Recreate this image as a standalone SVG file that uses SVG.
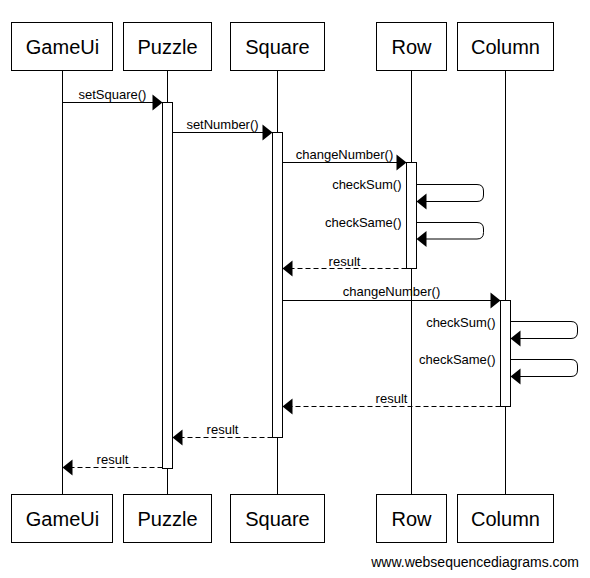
<svg xmlns="http://www.w3.org/2000/svg" width="590" height="578" viewBox="0 0 590 578">
<style>
.box{fill:#fff;stroke:#000;stroke-width:1}
.life{stroke:#000;stroke-width:1}
.act{fill:#fff;stroke:#000;stroke-width:1}
.pn{font-family:"Liberation Sans",Arial,sans-serif;font-size:20px;fill:#000;text-anchor:middle}
.msg{fill:none;stroke:#000;stroke-width:1}
.dash{stroke-dasharray:5,3}
.lbl{font-family:"Liberation Sans",Arial,sans-serif;font-size:13px;fill:#000;text-anchor:middle}
.lblr{font-family:"Liberation Sans",Arial,sans-serif;font-size:13px;fill:#000;text-anchor:end}
.ah{fill:#000}
.wm{font-family:"Liberation Sans",Arial,sans-serif;font-size:14px;fill:#000;text-anchor:end}
</style>
<rect width="590" height="578" fill="#fff"/>
<g id="lifelines">
<line class="life" x1="62.5" y1="71" x2="62.5" y2="494"/>
<line class="life" x1="167.5" y1="71" x2="167.5" y2="494"/>
<line class="life" x1="277.5" y1="71" x2="277.5" y2="494"/>
<line class="life" x1="411.5" y1="71" x2="411.5" y2="494"/>
<line class="life" x1="505.5" y1="71" x2="505.5" y2="494"/>
</g>
<g id="GameUi">
<rect class="box" x="11.5" y="22.5" width="101" height="48"/>
<text class="pn" x="62.5" y="54">GameUi</text>
<rect class="box" x="11.5" y="494.5" width="101" height="48"/>
<text class="pn" x="62.5" y="526">GameUi</text>
</g>
<g id="Puzzle">
<rect class="box" x="123.5" y="22.5" width="88" height="48"/>
<text class="pn" x="167.5" y="54">Puzzle</text>
<rect class="box" x="123.5" y="494.5" width="88" height="48"/>
<text class="pn" x="167.5" y="526">Puzzle</text>
</g>
<g id="Square">
<rect class="box" x="230.5" y="22.5" width="94" height="48"/>
<text class="pn" x="277.5" y="54">Square</text>
<rect class="box" x="230.5" y="494.5" width="94" height="48"/>
<text class="pn" x="277.5" y="526">Square</text>
</g>
<g id="Row">
<rect class="box" x="376.5" y="22.5" width="70" height="48"/>
<text class="pn" x="411.5" y="54">Row</text>
<rect class="box" x="376.5" y="494.5" width="70" height="48"/>
<text class="pn" x="411.5" y="526">Row</text>
</g>
<g id="Column">
<rect class="box" x="457.5" y="22.5" width="96" height="48"/>
<text class="pn" x="505.5" y="54">Column</text>
<rect class="box" x="457.5" y="494.5" width="96" height="48"/>
<text class="pn" x="505.5" y="526">Column</text>
</g>
<g id="activations">
<rect class="act" x="162.5" y="102.5" width="10" height="366"/>
<rect class="act" x="272.5" y="132.5" width="10" height="305"/>
<rect class="act" x="406.5" y="162.5" width="10" height="106"/>
<rect class="act" x="500.5" y="300.5" width="10" height="106"/>
</g>
<g id="connectors">
<line class="msg" x1="62.5" y1="102.5" x2="153" y2="102.5"/>
<polygon class="ah" points="162.5,102.5 152.5,94.5 152.5,110.5"/>
<text class="lbl" x="112.5" y="99">setSquare()</text>

<line class="msg" x1="172.5" y1="132.5" x2="263" y2="132.5"/>
<polygon class="ah" points="272.5,132.5 262.5,124.5 262.5,140.5"/>
<text class="lbl" x="222.5" y="129">setNumber()</text>

<line class="msg" x1="282.5" y1="162.5" x2="397" y2="162.5"/>
<polygon class="ah" points="406.5,162.5 396.5,154.5 396.5,170.5"/>
<text class="lbl" x="344.5" y="159">changeNumber()</text>

<path class="msg" d="M416.5,184.5 H477 Q483.5,184.5 483.5,191 V195 Q483.5,201.5 477,201.5 H426"/>
<polygon class="ah" points="416.5,201.5 426.5,193.5 426.5,209.5"/>
<text class="lblr" x="401.5" y="189">checkSum()</text>

<path class="msg" d="M416.5,222.5 H477 Q483.5,222.5 483.5,229 V232.5 Q483.5,239 477,239 H426"/>
<polygon class="ah" points="416.5,239 426.5,231 426.5,247"/>
<text class="lblr" x="401.5" y="227">checkSame()</text>

<line class="msg dash" x1="406.5" y1="268.5" x2="292" y2="268.5"/>
<polygon class="ah" points="282.5,268.5 292.5,260.5 292.5,276.5"/>
<text class="lbl" x="344.5" y="266">result</text>

<line class="msg" x1="282.5" y1="300.5" x2="491" y2="300.5"/>
<polygon class="ah" points="500.5,300.5 490.5,292.5 490.5,308.5"/>
<text class="lbl" x="391.5" y="296">changeNumber()</text>

<path class="msg" d="M510.5,321.5 H571 Q577.5,321.5 577.5,328 V332 Q577.5,338.5 571,338.5 H520"/>
<polygon class="ah" points="510.5,338.5 520.5,330.5 520.5,346.5"/>
<text class="lblr" x="495.5" y="327">checkSum()</text>

<path class="msg" d="M510.5,359.5 H571 Q577.5,359.5 577.5,366 V370 Q577.5,376.5 571,376.5 H520"/>
<polygon class="ah" points="510.5,376.5 520.5,368.5 520.5,384.5"/>
<text class="lblr" x="495.5" y="364">checkSame()</text>

<line class="msg dash" x1="500.5" y1="406.5" x2="292" y2="406.5"/>
<polygon class="ah" points="282.5,406.5 292.5,398.5 292.5,414.5"/>
<text class="lbl" x="391.5" y="403">result</text>

<line class="msg dash" x1="272.5" y1="437.5" x2="182" y2="437.5"/>
<polygon class="ah" points="172.5,437.5 182.5,429.5 182.5,445.5"/>
<text class="lbl" x="222.5" y="434">result</text>

<line class="msg dash" x1="162.5" y1="467.5" x2="72" y2="467.5"/>
<polygon class="ah" points="62.5,467.5 72.5,459.5 72.5,475.5"/>
<text class="lbl" x="112.5" y="464">result</text>
</g>
<text class="wm" x="579" y="567">www.websequencediagrams.com</text>
</svg>
